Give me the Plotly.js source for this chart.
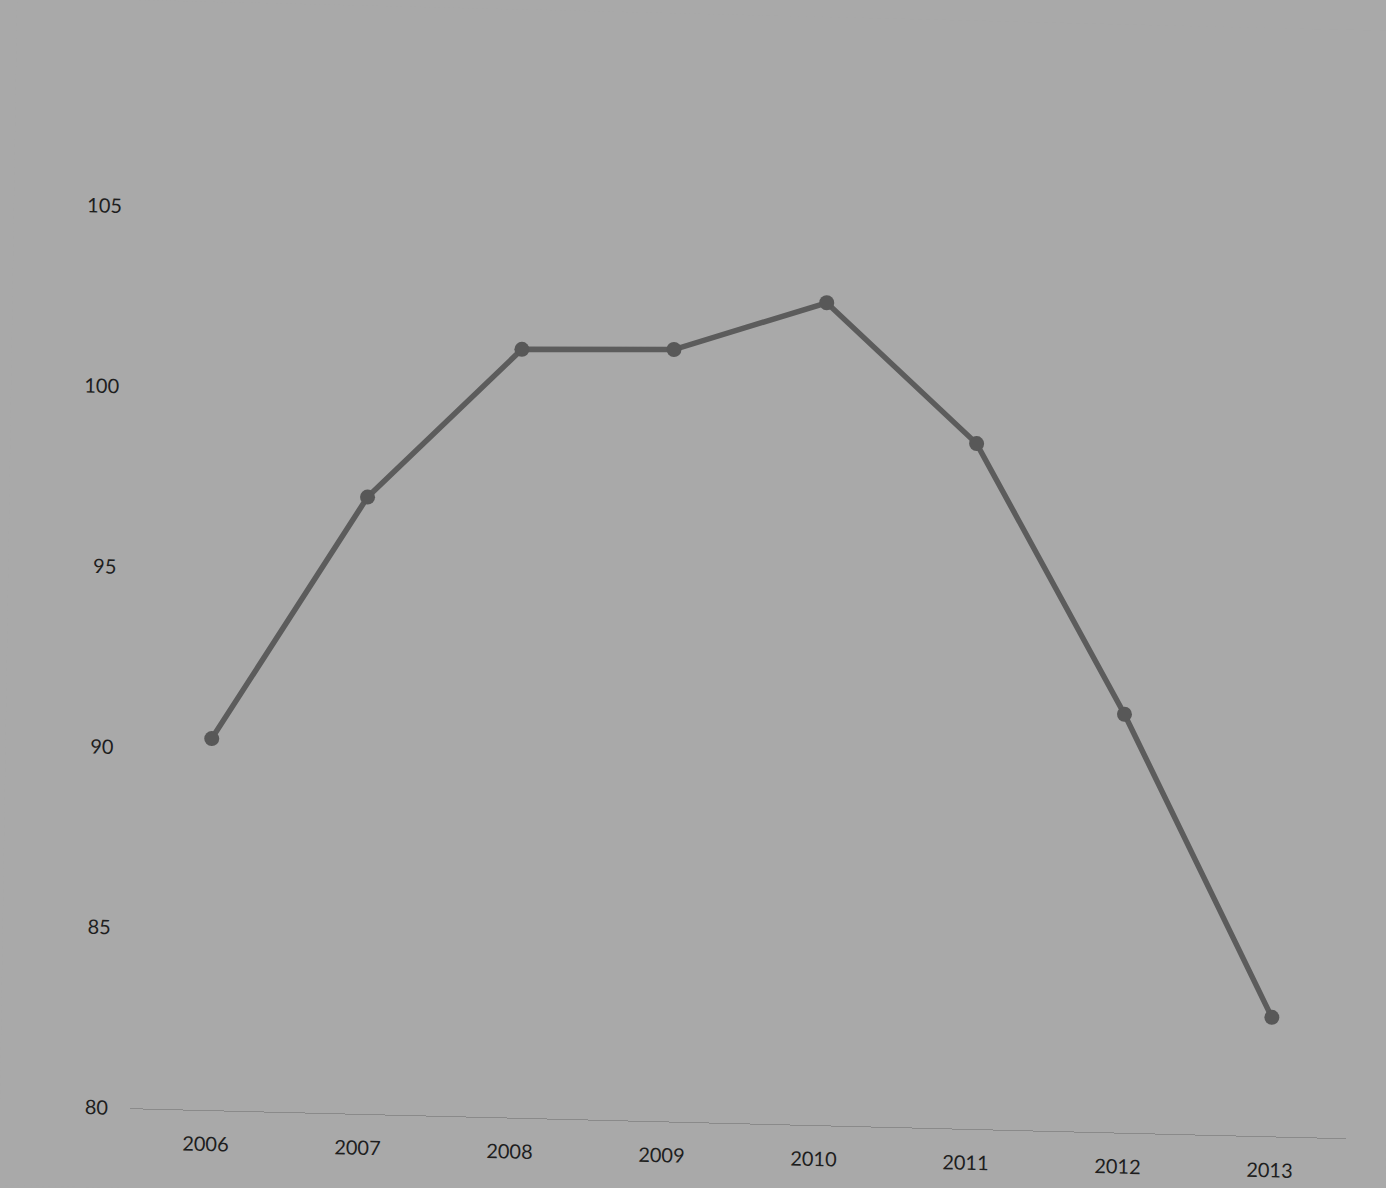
<!DOCTYPE html>
<html>
<head>
<meta charset="utf-8">
<script src="https://cdn.plot.ly/plotly-3.0.1.min.js"></script>
<style>
  html, body { margin: 0; padding: 0; background: #a9a9a9; overflow: hidden; }
  #chart { width: 1386px; height: 1188px;
           transform-origin: 122px 1108px;
           transform: matrix(1, 0.0247, -0.0155, 1, 0, 0); }
</style>
</head>
<body>
<div id="chart"></div>
<script>
const years = ['2006', '2007', '2008', '2009', '2010', '2011', '2012', '2013'];
const values = [90.3, 97.1, 101.3, 101.4, 102.8, 99.0, 91.6, 83.3];
const yTicks = [80, 85, 90, 95, 100, 105];

const trace = {
  x: years,
  y: values,
  type: 'scatter',
  mode: 'lines+markers',
  line: { color: '#5c5c5c', width: 5.5 },
  marker: { color: '#585858', size: 15 },
  hoverinfo: 'skip'
};

const layout = {
  width: 1386,
  height: 1188,
  paper_bgcolor: '#a9a9a9',
  plot_bgcolor: '#a9a9a9',
  margin: { l: 130, r: 40, t: 26, b: 80 },
  showlegend: false,
  font: { family: 'Lato, "Open Sans", sans-serif', size: 20, color: '#1e1e1e' },
  xaxis: {
    type: 'category',
    range: [-0.5, 7.5],
    showgrid: false,
    zeroline: false,
    showline: true,
    linecolor: '#8a8a8a',
    linewidth: 1,
    ticks: 'outside',
    ticklen: 16,
    tickcolor: 'rgba(0,0,0,0)',
    tickfont: { size: 20, color: '#1e1e1e' }
  },
  yaxis: {
    range: [80, 110],
    tickvals: yTicks,
    ticktext: yTicks.map(String),
    showgrid: false,
    zeroline: false,
    showline: false,
    ticks: 'outside',
    ticklen: 17,
    tickcolor: 'rgba(0,0,0,0)',
    tickfont: { size: 20, color: '#1e1e1e' }
  }
};

Plotly.newPlot('chart', [trace], layout, { displayModeBar: false, staticPlot: true });
</script>
</body>
</html>
